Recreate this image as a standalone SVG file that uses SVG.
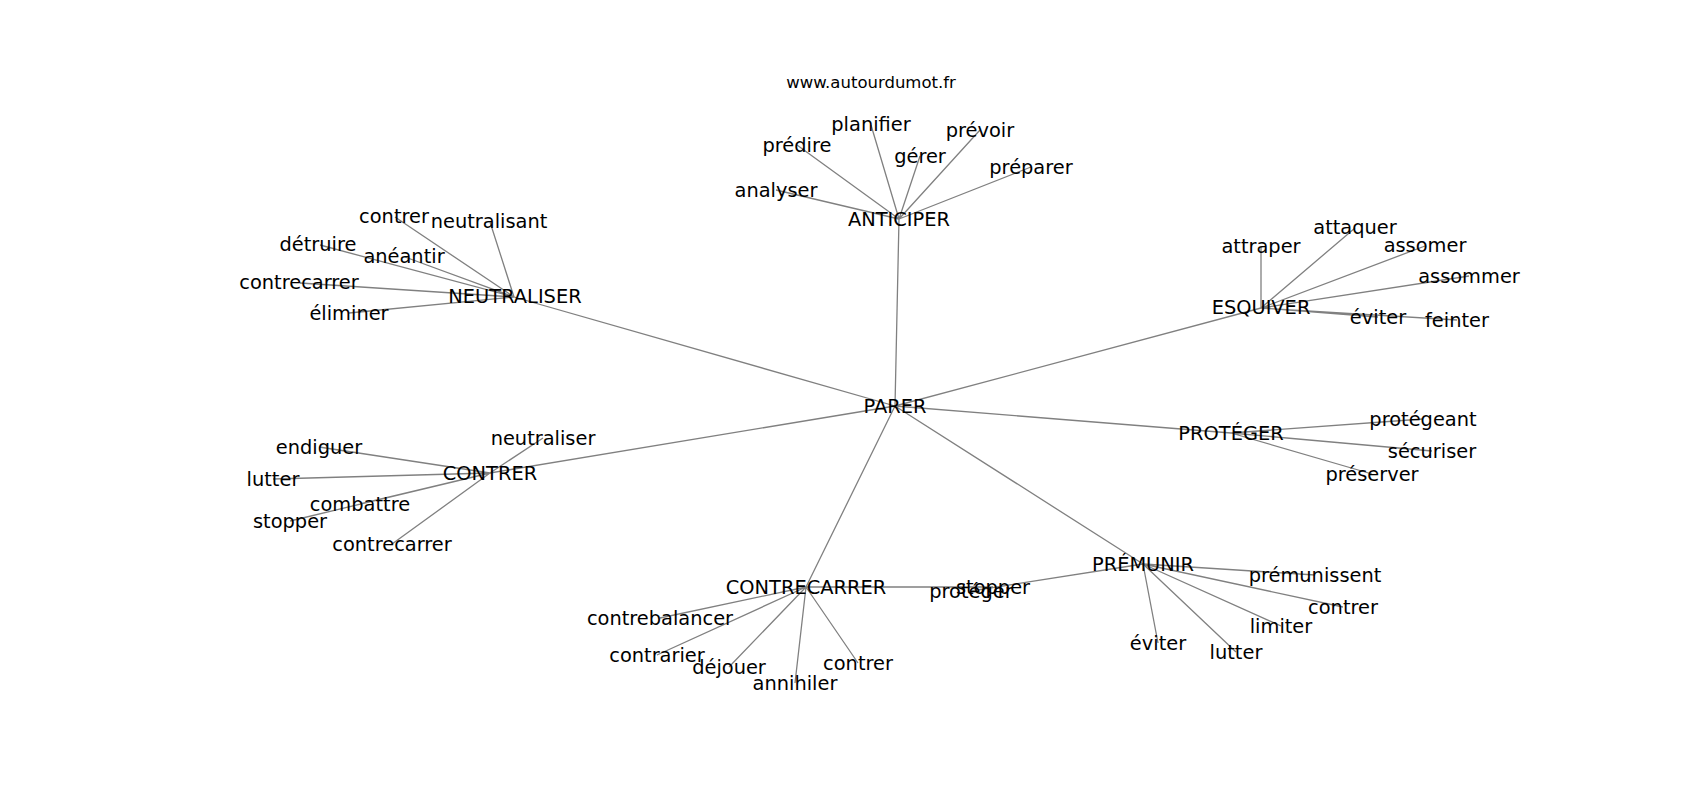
<svg xmlns="http://www.w3.org/2000/svg" width="1700" height="800" viewBox="0 0 1700 800">
<style>
.e{stroke:#808080;stroke-width:1.3;fill:none}
text{font-family:"DejaVu Sans","Noto Sans",sans-serif;fill:#000;text-anchor:middle}
.n text{font-size:19.4px}
.t{font-size:16.5px}
</style>
<rect width="1700" height="800" fill="#fff"/>
<text class="t" x="871" y="88">www.autourdumot.fr</text>
<g id="edges">
<path class="e" d="M895 406L899 219M895 406L514 297M895 406L1261 308M895 406L1231 433M895 406L1143 564M895 406L806 587M895 406L490 473"/>
<path class="e" d="M899 219L776 190M899 219L797 145M899 219L871 125M899 219L920 156M899 219L980 130M899 219L1031 167"/>
<path class="e" d="M514 297L395 217M514 297L490 222M514 297L320 245M514 297L405 257M514 297L300 283M514 297L349 313"/>
<path class="e" d="M1261 308L1261 247M1261 308L1355 228M1261 308L1425 246M1261 308L1469 276M1261 308L1378 317M1261 308L1457 320"/>
<path class="e" d="M1231 433L1423 419M1231 433L1432 451M1231 433L1372 474"/>
<path class="e" d="M1143 564L1315 575M1143 564L1343 607M1143 564L1281 626M1143 564L1158 643M1143 564L1236 652M1143 564L971 591"/>
<path class="e" d="M806 587L993 587M806 587L660 618M806 587L657 655M806 587L729 667M806 587L795 683M806 587L858 663"/>
<path class="e" d="M490 473L543 438M490 473L319 447M490 473L273 479M490 473L360 504M490 473L290 521M490 473L392 544"/>
</g>
<g class="n" transform="translate(0,1.5)">
<g id="n-parer"><text x="895" y="411">PARER</text></g>
<g id="n-anticiper"><text x="899" y="224">ANTICIPER</text></g>
<g id="n-analyser"><text x="776" y="195">analyser</text></g>
<g id="n-predire"><text x="797" y="150">prédire</text></g>
<g id="n-planifier"><text x="871" y="129">planifier</text></g>
<g id="n-gerer"><text x="920" y="161">gérer</text></g>
<g id="n-prevoir"><text x="980" y="135">prévoir</text></g>
<g id="n-preparer"><text x="1031" y="172">préparer</text></g>
<g id="n-neutraliser"><text x="515" y="301">NEUTRALISER</text></g>
<g id="n-contrer1"><text x="394" y="221">contrer</text></g>
<g id="n-neutralisant"><text x="489" y="226">neutralisant</text></g>
<g id="n-detruire"><text x="318" y="249">détruire</text></g>
<g id="n-aneantir"><text x="404" y="261">anéantir</text></g>
<g id="n-contrecarrer1"><text x="299" y="287">contrecarrer</text></g>
<g id="n-eliminer"><text x="349" y="318">éliminer</text></g>
<g id="n-esquiver"><text x="1261" y="312">ESQUIVER</text></g>
<g id="n-attraper"><text x="1261" y="251">attraper</text></g>
<g id="n-attaquer"><text x="1355" y="232">attaquer</text></g>
<g id="n-assomer"><text x="1425" y="250">assomer</text></g>
<g id="n-assommer"><text x="1469" y="281">assommer</text></g>
<g id="n-eviter1"><text x="1378" y="322">éviter</text></g>
<g id="n-feinter"><text x="1457" y="325">feinter</text></g>
<g id="n-proteger"><text x="1231" y="438">PROTÉGER</text></g>
<g id="n-protegeant"><text x="1423" y="424">protégeant</text></g>
<g id="n-securiser"><text x="1432" y="456">sécuriser</text></g>
<g id="n-preserver"><text x="1372" y="479">préserver</text></g>
<g id="n-premunir"><text x="1143" y="569">PRÉMUNIR</text></g>
<g id="n-premunissent"><text x="1315" y="580">prémunissent</text></g>
<g id="n-contrer2"><text x="1343" y="612">contrer</text></g>
<g id="n-limiter"><text x="1281" y="631">limiter</text></g>
<g id="n-eviter2"><text x="1158" y="648">éviter</text></g>
<g id="n-lutter1"><text x="1236" y="657">lutter</text></g>
<g id="n-proteger2"><text x="971" y="596">protéger</text></g>
<g id="n-contrecarrer"><text x="806" y="592">CONTRECARRER</text></g>
<g id="n-stopper1"><text x="993" y="592">stopper</text></g>
<g id="n-contrebalancer"><text x="660" y="623">contrebalancer</text></g>
<g id="n-contrarier"><text x="657" y="660">contrarier</text></g>
<g id="n-dejouer"><text x="729" y="672">déjouer</text></g>
<g id="n-annihiler"><text x="795" y="688">annihiler</text></g>
<g id="n-contrer3"><text x="858" y="668">contrer</text></g>
<g id="n-contrer"><text x="490" y="478">CONTRER</text></g>
<g id="n-neutraliser2"><text x="543" y="443">neutraliser</text></g>
<g id="n-endiguer"><text x="319" y="452">endiguer</text></g>
<g id="n-lutter2"><text x="273" y="484">lutter</text></g>
<g id="n-combattre"><text x="360" y="509">combattre</text></g>
<g id="n-stopper2"><text x="290" y="526">stopper</text></g>
<g id="n-contrecarrer2"><text x="392" y="549">contrecarrer</text></g>
</g>
</svg>
